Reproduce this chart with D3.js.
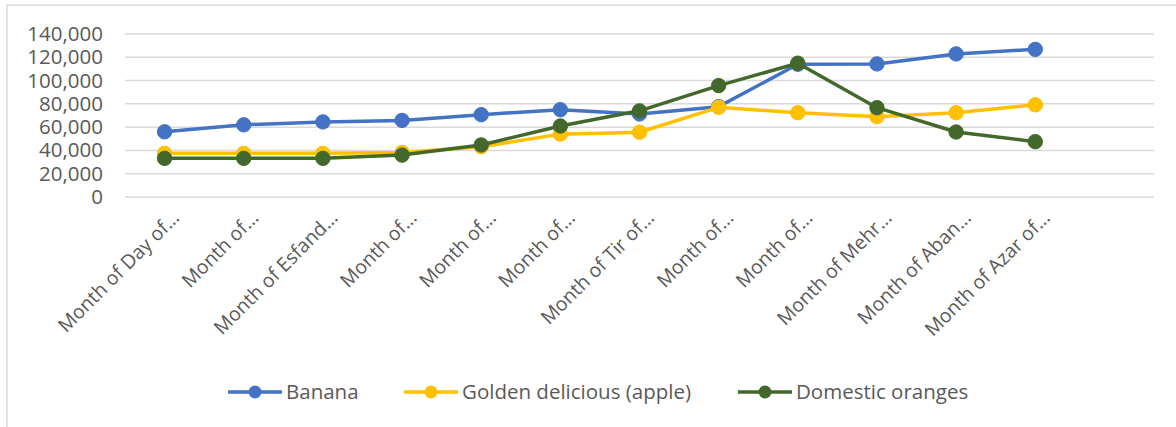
<!DOCTYPE html>
<html><head><meta charset="utf-8">
<script src="https://cdn.jsdelivr.net/npm/d3@7"></script>
<style>
html,body{margin:0;padding:0;background:#fff;}
svg{display:block;font-family:"Open Sans",sans-serif;}
</style></head>
<body>
<svg id="chart" width="1176" height="427"></svg>
<script>
const categories = ["Month of Day of…","Month of…","Month of Esfand…","Month of…","Month of…","Month of…","Month of Tir of…","Month of…","Month of…","Month of Mehr…","Month of Aban…","Month of Azar of…",""];
const banana   = [56000, 62000, 64500, 65800, 70700, 75000, 71300, 77600, 114000, 114300, 122900, 126800];
const golden   = [37500, 37500, 37500, 38300, 43200, 54000, 55600, 77000, 72400, 69000, 72400, 79200];
const oranges  = [33200, 33200, 33200, 36000, 44700, 61000, 74000, 95700, 114900, 76700, 55800, 47500];
const seriesNames = ["Banana","Golden delicious (apple)","Domestic oranges"];
const seriesColors = ["#4472C4","#FFC000","#43682B"];
const yTicks = [0,20000,40000,60000,80000,100000,120000,140000];

const svg = d3.select("#chart");
// outer frame
svg.append("rect").attr("x",7).attr("y",5).attr("width",1200).attr("height",500)
  .attr("fill","none").attr("stroke","#D9D9D9").attr("stroke-width",1.5);

const x = d3.scaleBand().domain(categories.map((c,i)=>i)).range([125,1154]);
const y = d3.scaleLinear().domain([0,140000]).range([197,34]);

// gridlines
svg.append("g").selectAll("line").data(yTicks).join("line")
  .attr("x1",125).attr("x2",1154)
  .attr("y1",d=>y(d)).attr("y2",d=>y(d))
  .attr("stroke","#D9D9D9").attr("stroke-width",1.5);

// y axis labels
const yAxis = d3.axisLeft(y).tickValues(yTicks).tickSize(0).tickPadding(0)
  .tickFormat(d3.format(","));
const yg = svg.append("g").attr("transform","translate(103,0)").call(yAxis);
yg.select(".domain").remove();
yg.selectAll("text").attr("fill","#595959").attr("font-size","20.5px")
  .attr("font-family","'Open Sans',sans-serif");

// x axis labels
const xAxis = d3.axisBottom(x).tickSize(0).tickFormat(i=>categories[i]);
const xg = svg.append("g").attr("transform","translate(0,197)").call(xAxis);
xg.select(".domain").remove();
xg.selectAll("text")
  .attr("fill","#595959").attr("font-size","19.5px")
  .attr("font-family","'Open Sans',sans-serif")
  .attr("text-anchor","end").attr("dy",0).attr("y",0)
  .attr("transform","translate(16,22) rotate(-45)");

const all = [banana, golden, oranges];
const line = d3.line().x((d,i)=>x(i)+x.bandwidth()/2).y(d=>y(d));
all.forEach((vals,si)=>{
  const g = svg.append("g");
  g.append("path").datum(vals).attr("d",line).attr("fill","none")
    .attr("stroke",seriesColors[si]).attr("stroke-width",3.5).attr("stroke-linejoin","round");
  g.selectAll("circle").data(vals).join("circle")
    .attr("cx",(d,i)=>x(i)+x.bandwidth()/2).attr("cy",d=>y(d)).attr("r",7.2)
    .attr("fill",seriesColors[si]).attr("stroke",seriesColors[si]).attr("stroke-width",1);
});

// legend
const legendX = [228, 404, 738];
const lg = svg.append("g");
seriesNames.forEach((n,i)=>{
  const g = lg.append("g").attr("transform",`translate(${legendX[i]},392)`);
  g.append("line").attr("x1",0).attr("x2",54).attr("y1",0).attr("y2",0)
    .attr("stroke",seriesColors[i]).attr("stroke-width",3.5);
  g.append("circle").attr("cx",27).attr("cy",0).attr("r",6.5).attr("fill",seriesColors[i]);
  g.append("text").attr("x",58).attr("y",0).attr("dy","0.35em")
    .attr("fill","#595959").attr("font-size","20.5px").text(n);
});
</script>
</body></html>
